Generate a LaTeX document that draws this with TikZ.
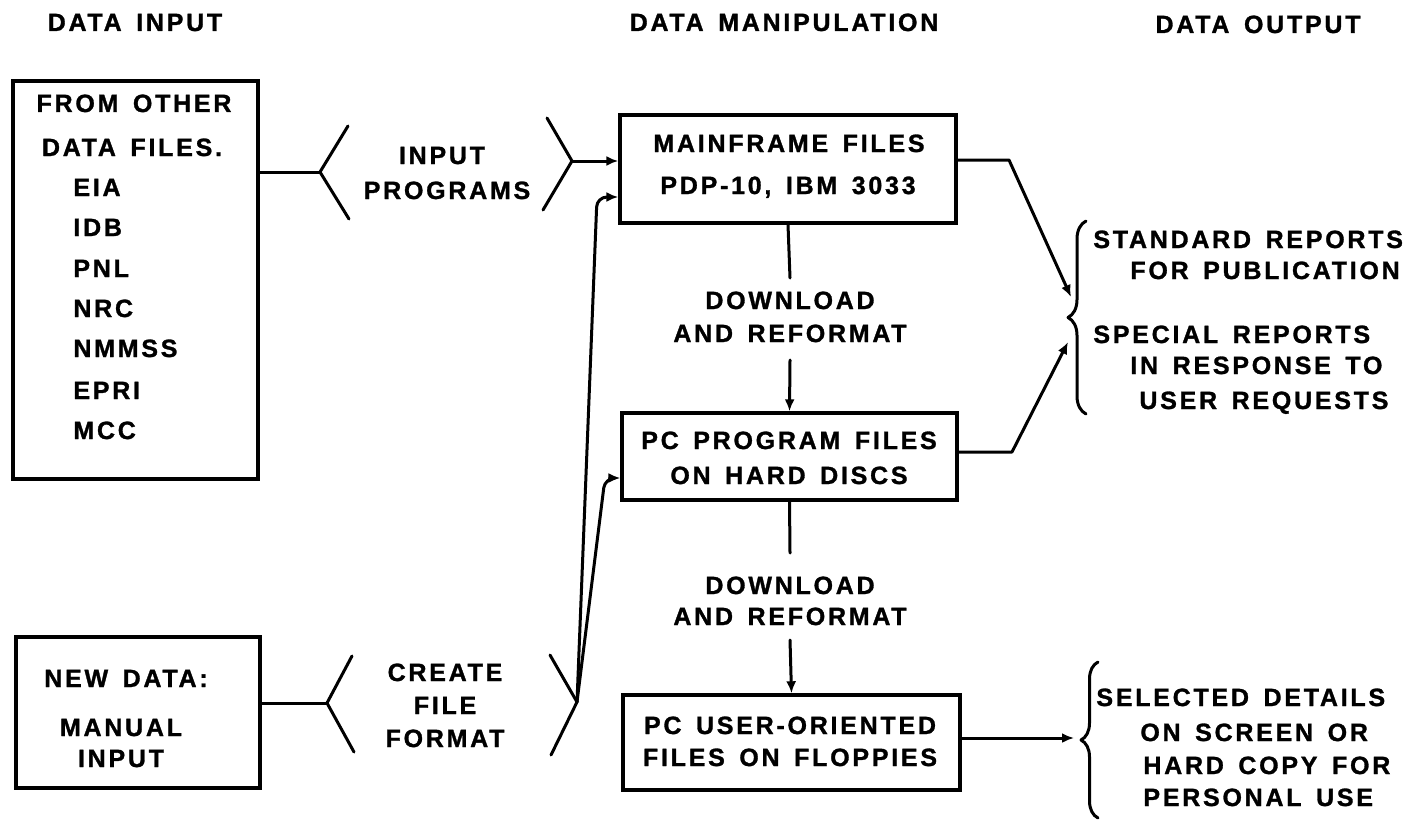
\documentclass[tikz,border=0pt]{standalone}
\usepackage{fontspec}
\setmainfont{Liberation Sans}[LetterSpace=11, WordSpace=1.5, BoldFeatures={FakeBold=1.2}]
\usetikzlibrary{arrows.meta,decorations.pathreplacing}
\begin{document}
\begin{tikzpicture}[x=0.5pt,y=-0.5pt,
  box/.style={draw, line width=1.7pt, inner sep=0pt},
  txt/.style={font=\fontsize{12.5}{15}\selectfont\bfseries, inner sep=0pt, anchor=base},
  txl/.style={txt, anchor=base west},
  ln/.style={line width=1.5pt, line cap=round, line join=round},
  arr/.style={ln, -{Latex[length=6pt,width=5pt]}},
  brc/.style={ln, decorate, decoration={brace, amplitude=9pt}}]
\useasboundingbox (0,0) rectangle (1428,824);

% headers
\node[txt] (h1) at (135,31) {DATA INPUT};
\node[txt] (h2) at (784,31) {DATA MANIPULATION};
\node[txt] (h3) at (1258,33) {DATA OUTPUT};

% boxes
\node[box, minimum width=122.5pt, minimum height=199pt] (other) at (135.5,280) {};
\node[box, minimum width=122pt, minimum height=75.5pt] (newdata) at (138,712.5) {};
\node[box, minimum width=168pt, minimum height=54pt] (main) at (788,169) {};
\node[box, minimum width=167.5pt, minimum height=43.5pt] (pcprog) at (789.5,456.5) {};
\node[box, minimum width=168.5pt, minimum height=47.5pt] (pcuser) at (791.5,742.5) {};

% box texts
\node[txt] (o1) at (134,112) {FROM OTHER};
\node[txt] (o2) at (132,156) {DATA FILES.};
\node[txl] (o3) at (73,196) {EIA};
\node[txl] (o4) at (73,236) {IDB};
\node[txl] (o5) at (73,277) {PNL};
\node[txl] (o6) at (73,317) {NRC};
\node[txl] (o7) at (73,357) {NMMSS};
\node[txl] (o8) at (73,399) {EPRI};
\node[txl] (o9) at (73,439) {MCC};

\node[txt] (n1) at (126,687) {NEW DATA:};
\node[txt] (n2) at (121,736) {MANUAL};
\node[txt] (n3) at (121,767) {INPUT};

\node[txt] (m1) at (789,152) {MAINFRAME FILES};
\node[txt] (m2) at (788,194) {PDP-10, IBM 3033};

\node[txt] (p1) at (789,449) {PC PROGRAM FILES};
\node[txt] (p2) at (789,484) {ON HARD DISCS};

\node[txt] (u1) at (790,734) {PC USER-ORIENTED};
\node[txt] (u2) at (790,766) {FILES ON FLOPPIES};

% process labels
\node[txt] (ip1) at (442,164) {INPUT};
\node[txt] (ip2) at (447,199) {PROGRAMS};
\node[txt] (cf1) at (445,681) {CREATE};
\node[txt] (cf2) at (445,714) {FILE};
\node[txt] (cf3) at (445,747) {FORMAT};
\node[txt] (d1a) at (790,309) {DOWNLOAD};
\node[txt] (d1b) at (790,342) {AND REFORMAT};
\node[txt] (d2a) at (790,594) {DOWNLOAD};
\node[txt] (d2b) at (790,625) {AND REFORMAT};

% output texts
\node[txl] (s1) at (1093,248) {STANDARD REPORTS};
\node[txl] (s2) at (1130,279) {FOR PUBLICATION};
\node[txl] (s3) at (1093,343) {SPECIAL REPORTS};
\node[txl] (s4) at (1130,374) {IN RESPONSE TO};
\node[txl] (s5) at (1139,409) {USER REQUESTS};
\node[txl] (e1) at (1096,706) {SELECTED DETAILS};
\node[txl] (e2) at (1140,741) {ON SCREEN OR};
\node[txl] (e3) at (1143,774) {HARD COPY FOR};
\node[txl] (e4) at (1143,806) {PERSONAL USE};

% coordinates
\coordinate (v1) at (320,172);
\coordinate (b1a) at (348,126);
\coordinate (b1b) at (349,219);
\coordinate (v2) at (572,161);
\coordinate (b2a) at (547,118);
\coordinate (b2b) at (543,210);
\coordinate (v3) at (327,703);
\coordinate (b3a) at (352,656);
\coordinate (b3b) at (354,752);
\coordinate (v4) at (577,702);
\coordinate (b4a) at (550,655);
\coordinate (b4b) at (551,755);
\coordinate (c1) at (597,197);
\coordinate (c2) at (605,478);
\coordinate (d1t) at (790,278);
\coordinate (d1u) at (790,360);
\coordinate (d2t) at (790,553);
\coordinate (d2u) at (790,640);
\coordinate (c3) at (1009,160);
\coordinate (t1) at (1071,297);
\coordinate (c4) at (1012,452);
\coordinate (t2) at (1068,342);
\coordinate (t3) at (1074,738);

% input side
\draw[ln] (v1 -| other.east) -- (v1);
\draw[ln] (b1a) -- (v1) -- (b1b);
\draw[ln] (b2a) -- (v2) -- (b2b);
\draw[arr] (v2) -- (v2 -| main.west);
\draw[ln] (v3 -| newdata.east) -- (v3);
\draw[ln] (b3a) -- (v3) -- (b3b);
\draw[ln] (b4a) -- (v4) -- (b4b);
\draw[arr, rounded corners=5pt] (v4) -- (c1) -- (c1 -| main.west);
\draw[arr, rounded corners=5pt] (v4) -- (c2) -- (c2 -| pcprog.west);

% vertical flow
\draw[ln] (main.south) -- (d1t);
\draw[arr] (d1u) -- (pcprog.north);
\draw[ln] (pcprog.south) -- (d2t);
\draw[arr] (d2u) -- (pcuser.north);

% output side
\draw[arr] (c3 -| main.east) -- (c3) -- (t1);
\draw[arr] (c4 -| pcprog.east) -- (c4) -- (t2);
\draw[arr] (t3 -| pcuser.east) -- (t3);

% braces
\coordinate (r1a) at (1086,414);
\coordinate (r1b) at (1086,221);
\coordinate (r2a) at (1098,818);
\coordinate (r2b) at (1098,662);
\draw[brc] (r1a) -- (r1b);
\draw[brc, decoration={amplitude=8.5pt}] (r2a) -- (r2b);
\end{tikzpicture}
\end{document}
